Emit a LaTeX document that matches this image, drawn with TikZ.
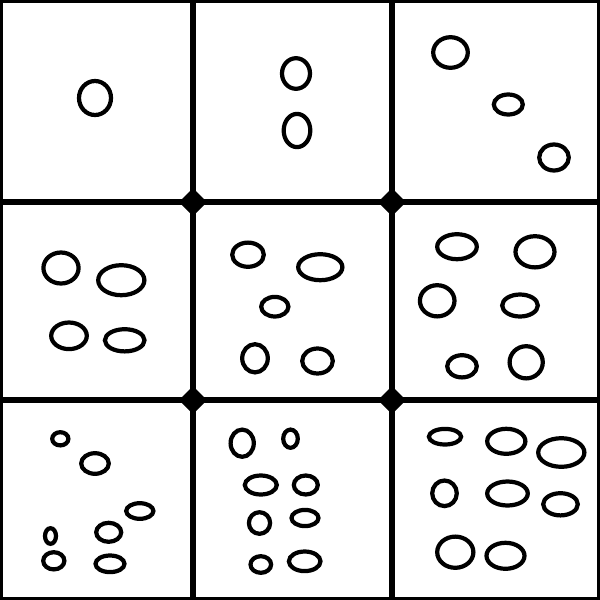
\documentclass[tikz,border=0pt]{standalone}
\usepackage{tikz}
\tikzset{
      wall/.style   = {line width=4.75pt},          % grid walls
      blob/.style   = {line width=3pt},             % cell spots
      joint/.style  = {fill=black}                  % wall crossings
    }

\begin{document}
\begin{tikzpicture}[x=0.025cm, y=-0.025cm]
  \useasboundingbox (0,0) rectangle (600,600);
  % Outer frame
  \draw[wall] (0,0) rectangle (600,600);
  % Walls
  \draw[wall] (193,0) -- (193,600);
  \draw[wall] (392,0) -- (392,600);
  \draw[wall] (0,202) -- (600,202);
  \draw[wall] (0,400) -- (600,400);
  % Crossings
  \fill[joint] (193,202) ++(0,-14) -- ++(14,14) -- ++(-14,14) -- ++(-14,-14) -- cycle;
  \fill[joint] (392,202) ++(0,-14) -- ++(14,14) -- ++(-14,14) -- ++(-14,-14) -- cycle;
  \fill[joint] (193,400) ++(0,-14) -- ++(14,14) -- ++(-14,14) -- ++(-14,-14) -- cycle;
  \fill[joint] (392,400) ++(0,-14) -- ++(14,14) -- ++(-14,14) -- ++(-14,-14) -- cycle;
  % Top row
  \draw[blob] (95,98) ellipse (16 and 17);
  \draw[blob] (296,73.5) ellipse (14 and 15.3)
              (297,130.5) ellipse (13.3 and 16.6);
  \draw[blob] (450.5,52.5) ellipse (17.3 and 15.3)
              (508.3,104.5) ellipse (14.5 and 10)
              (554,157.5) ellipse (14.8 and 13);
  % Middle row
  \draw[blob] (61,268) ellipse (17.6 and 15.5)
              (121.3,280.2) ellipse (23.1 and 15)
              (69,335.8) ellipse (17.8 and 13.3)
              (124.7,340.3) ellipse (19.8 and 11.1);
  \draw[blob] (248,254.7) ellipse (15.8 and 12.1)
              (320.3,267.2) ellipse (22.1 and 13)
              (274.8,306.7) ellipse (13.6 and 9.8)
              (255,358.3) ellipse (12.8 and 14.1)
              (317.5,361) ellipse (15.3 and 12.5);
  \draw[blob] (457,246.7) ellipse (19.8 and 12.5)
              (535,251.8) ellipse (19.5 and 15.6)
              (437.2,300.8) ellipse (17.3 and 15.6)
              (520,305.5) ellipse (17.8 and 11)
              (462,366.3) ellipse (14.8 and 11.1)
              (526.2,362.3) ellipse (16.6 and 16.1);
  % Bottom row
  \draw[blob] (60.3,438.8) ellipse (8.1 and 6.6)
              (95,463.5) ellipse (13.8 and 10.3)
              (139.8,511) ellipse (13.6 and 7.8)
              (108.7,532.3) ellipse (12.5 and 9.5)
              (50.5,536) ellipse (5.5 and 7.8)
              (53.8,560.8) ellipse (10.6 and 8.6)
              (110,563.8) ellipse (14.5 and 8.3);
  \draw[blob] (242.2,443.2) ellipse (11.6 and 13.6)
              (290.5,438.7) ellipse (7.3 and 9.1)
              (260.8,485) ellipse (16 and 9.5)
              (305.8,485) ellipse (12 and 9.5)
              (259.5,523) ellipse (10.6 and 10.8)
              (305,518) ellipse (13.5 and 8.1)
              (260.8,564.5) ellipse (10.3 and 8.3)
              (304.7,561.3) ellipse (15.8 and 9.8);
  \draw[blob] (445,436.7) ellipse (16.1 and 7.8)
              (506.3,441.3) ellipse (19.1 and 12.5)
              (561.3,452.5) ellipse (23.1 and 14.3)
              (444.5,493.3) ellipse (12.3 and 12.8)
              (507.5,493.5) ellipse (20.3 and 12)
              (560.5,504.3) ellipse (17.3 and 11.1)
              (455.3,552.2) ellipse (18.1 and 15.6)
              (505.5,555.8) ellipse (19 and 13);
\end{tikzpicture}
\end{document}
